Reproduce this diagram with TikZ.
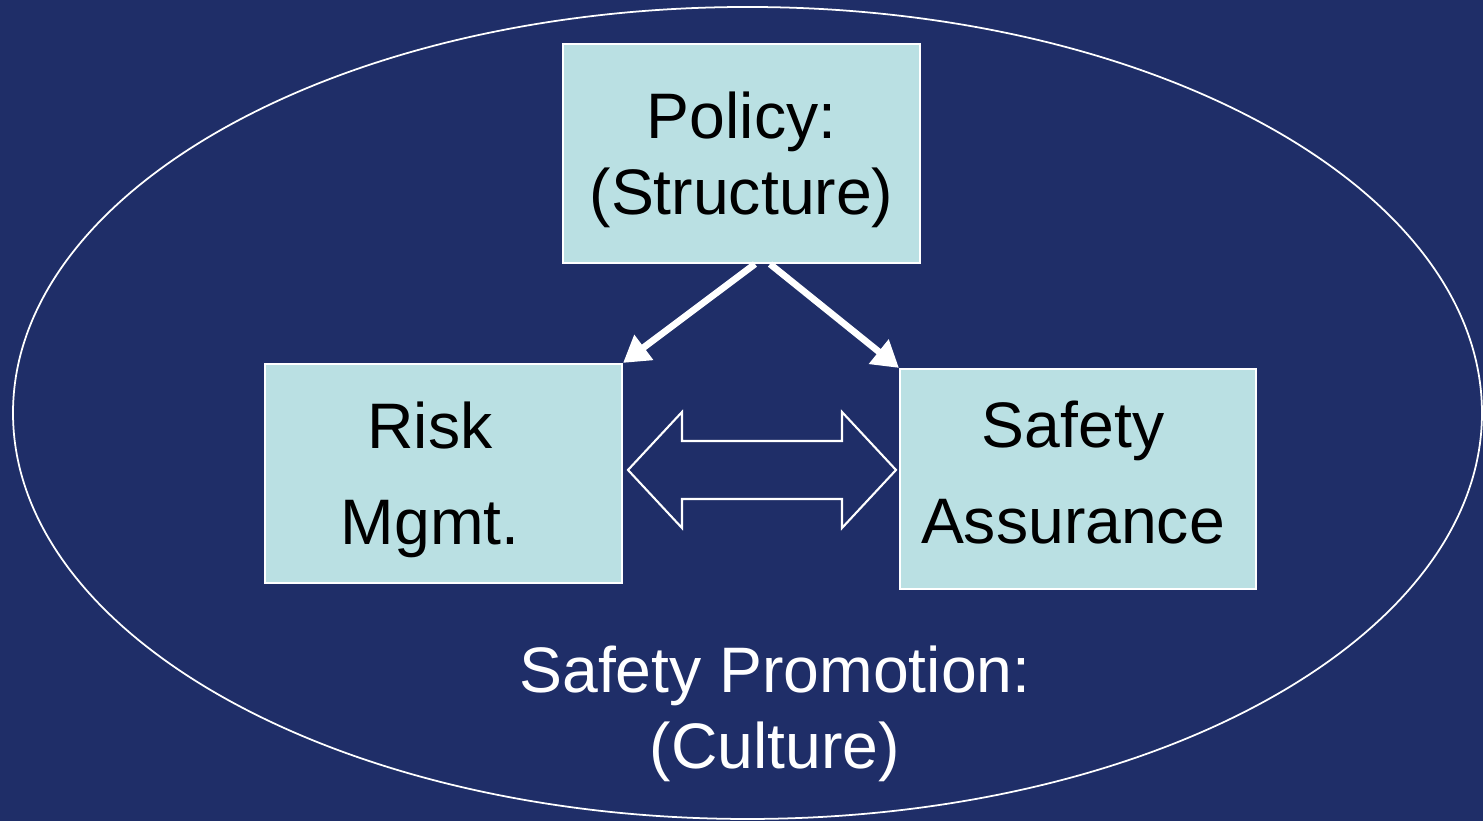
\documentclass[tikz,border=0pt]{standalone}
\usepackage{fontspec}
\setmainfont{Liberation Sans}
\usepackage{tikz}
\usetikzlibrary{positioning}
\usetikzlibrary{calc}
\usetikzlibrary{arrows, shapes, arrows.meta}
\definecolor{navyblue}{RGB}{31,46,104}
\definecolor{paleteal}{RGB}{186,224,227}
\tikzstyle{block} = [rectangle, minimum width=3.57cm, minimum height=2.19cm, align=center, draw=white, line width=0.6pt, fill=paleteal, text=black, inner sep=0pt]
\tikzstyle{arrow} = [line width=1.9pt, white, -{Triangle[length=2.6mm,width=3mm]}]
\tikzstyle{twoway} = [draw=white, line width=0.6pt, fill=navyblue]

\begin{document}
\begin{tikzpicture}[every node/.style={font=\fontsize{18.3}{21.6}\selectfont}]
\fill [navyblue] (0,0) rectangle (14.83,8.21);
\useasboundingbox (0,0) rectangle (14.83,8.21);
\draw[white, line width=0.5pt] (7.475,4.08) ellipse (7.345 and 4.06);
\draw (7.415,6.675) node (policy) [block, text depth=0pt] {Policy:\\(Structure)};
\draw (4.435,3.475) node (risk) [block, text depth=0pt, font=\fontsize{18.3}{27.4}\selectfont] {Risk\kern0.27cm\\Mgmt.\kern0.27cm};
\draw (10.78,3.42) node (assurance) [block, minimum width=3.56cm, minimum height=2.2cm, text depth=0.14cm, font=\fontsize{18.3}{27.4}\selectfont] {Safety\kern0.1cm\\Assurance\kern0.1cm};
\draw (7.75,1.07) node (promotion) [align=center, text=white] {Safety Promotion:\\(Culture)};
\coordinate (link) at (7.62,3.51);
\draw[twoway] ($(link)+(-1.34,0)$)--($(link)+(-0.80,0.58)$)--($(link)+(-0.80,0.29)$)--($(link)+(0.80,0.29)$)--($(link)+(0.80,0.58)$)--($(link)+(1.34,0)$)--($(link)+(0.80,-0.58)$)--($(link)+(0.80,-0.29)$)--($(link)+(-0.80,-0.29)$)--($(link)+(-0.80,-0.58)$)--cycle;
\draw[arrow] ([xshift=1.35mm]policy.south)--(risk.north east);
\draw[arrow] ([xshift=2.85mm]policy.south)--(assurance.north west);
\end{tikzpicture}
\end{document}
